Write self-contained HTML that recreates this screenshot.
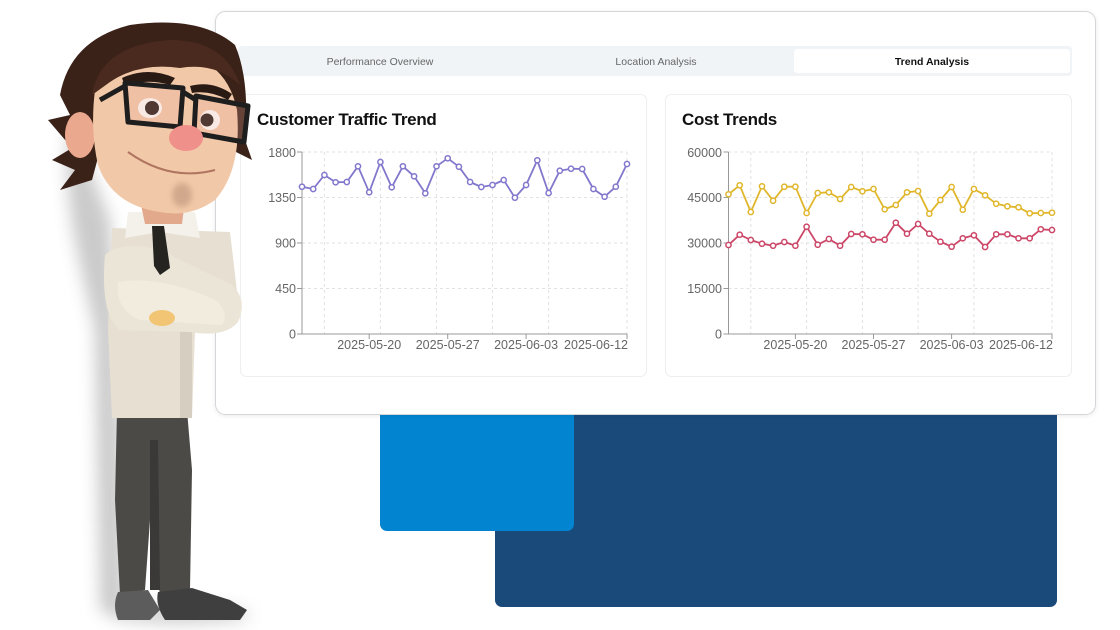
<!DOCTYPE html>
<html><head><meta charset="utf-8"><style>
html,body{margin:0;padding:0;background:#fff;width:1120px;height:630px;overflow:hidden}
svg{display:block}
text{font-family:"Liberation Sans",sans-serif}
</style></head><body>
<svg width="1120" height="630" viewBox="0 0 1120 630" xmlns="http://www.w3.org/2000/svg">
<defs>
<filter id="blur8" x="-50%" y="-50%" width="200%" height="200%"><feGaussianBlur stdDeviation="8"/></filter>
<filter id="blur3" x="-50%" y="-50%" width="200%" height="200%"><feGaussianBlur stdDeviation="3"/></filter>
<filter id="cardsh" x="-5%" y="-5%" width="110%" height="115%"><feDropShadow dx="0" dy="1" stdDeviation="2" flood-color="#000" flood-opacity="0.08"/></filter>
</defs>
<rect width="1120" height="630" fill="#fff"/>

<!-- blue blocks -->
<rect x="495" y="380" width="562" height="227" rx="7" fill="#1a4a7a"/>
<rect x="380" y="380" width="194" height="151" rx="7" fill="#0384d0"/>

<!-- main card -->
<rect x="215.5" y="11.5" width="880" height="403" rx="10" fill="#fff" stroke="#d4d6d9" filter="url(#cardsh)"/>

<!-- tabs -->
<rect x="238" y="46" width="834" height="30" rx="4" fill="#f1f4f7"/>
<rect x="794" y="49" width="276" height="24" rx="3" fill="#fff"/>
<text x="380" y="65" font-size="10.5" fill="#666" text-anchor="middle">Performance Overview</text>
<text x="656" y="65" font-size="10.5" fill="#666" text-anchor="middle">Location Analysis</text>
<text x="932" y="65" font-size="10.5" fill="#111" text-anchor="middle" font-weight="bold">Trend Analysis</text>

<!-- chart cards -->
<rect x="240.5" y="94.5" width="406" height="282" rx="6" fill="#fff" stroke="#eceef0"/>
<rect x="665.5" y="94.5" width="406" height="282" rx="6" fill="#fff" stroke="#eceef0"/>

<text x="257" y="125" font-size="17" font-weight="bold" fill="#111" letter-spacing="-0.3">Customer Traffic Trend</text>
<text x="682" y="125" font-size="17" font-weight="bold" fill="#111" letter-spacing="-0.3">Cost Trends</text>

<!-- Chart 1 grid -->
<g stroke="#e2e2e2" stroke-dasharray="3 3" stroke-width="1" fill="none">
<line x1="302" y1="152" x2="627" y2="152"/>
<line x1="302" y1="197.5" x2="627" y2="197.5"/>
<line x1="302" y1="243" x2="627" y2="243"/>
<line x1="302" y1="288.5" x2="627" y2="288.5"/>
<line x1="324.4" y1="152" x2="324.4" y2="334"/>
<line x1="380.4" y1="152" x2="380.4" y2="334"/>
<line x1="436.5" y1="152" x2="436.5" y2="334"/>
<line x1="492.5" y1="152" x2="492.5" y2="334"/>
<line x1="548.6" y1="152" x2="548.6" y2="334"/>
<line x1="627" y1="152" x2="627" y2="334"/>
</g>
<g stroke="#999" stroke-width="1" fill="none">
<line x1="302" y1="152" x2="302" y2="334"/>
<line x1="302" y1="334" x2="627" y2="334"/>
<line x1="297" y1="152" x2="302" y2="152"/>
<line x1="297" y1="197.5" x2="302" y2="197.5"/>
<line x1="297" y1="243" x2="302" y2="243"/>
<line x1="297" y1="288.5" x2="302" y2="288.5"/>
<line x1="297" y1="334" x2="302" y2="334"/>
<line x1="369.2" y1="334" x2="369.2" y2="339"/>
<line x1="447.7" y1="334" x2="447.7" y2="339"/>
<line x1="526.1" y1="334" x2="526.1" y2="339"/>
<line x1="627" y1="334" x2="627" y2="339"/>
</g>
<g font-size="12.5" fill="#666" text-anchor="end">
<text x="296" y="157">1800</text>
<text x="296" y="202">1350</text>
<text x="296" y="247.5">900</text>
<text x="296" y="293">450</text>
<text x="296" y="338.5">0</text>
</g>
<g font-size="12.5" fill="#666" text-anchor="middle">
<text x="369.2" y="349">2025-05-20</text>
<text x="447.7" y="349">2025-05-27</text>
<text x="526.1" y="349">2025-06-03</text>
<text x="628" y="349" text-anchor="end">2025-06-12</text>
</g>
<g fill="none" stroke="#8177cc" stroke-width="1.8" stroke-linejoin="round">
<polyline points="302,186.7 313.2,189 324.4,175 335.6,182.3 346.8,182 358,166.3 369.2,192.3 380.4,162 391.7,187.3 402.9,166.3 414.1,176.3 425.3,193.3 436.5,166.3 447.7,158.3 458.9,166.7 470.1,182 481.3,187 492.5,185 503.7,180 514.9,197.7 526.1,185 537.3,160.3 548.6,193 559.8,170.7 571,168.7 582.2,169 593.4,189 604.6,196.7 615.8,186.7 627,164"/>
</g>
<g fill="#fff" stroke="#8177cc" stroke-width="1.5">
<circle cx="302" cy="186.7" r="2.6"/><circle cx="313.2" cy="189" r="2.6"/><circle cx="324.4" cy="175" r="2.6"/><circle cx="335.6" cy="182.3" r="2.6"/><circle cx="346.8" cy="182" r="2.6"/><circle cx="358" cy="166.3" r="2.6"/><circle cx="369.2" cy="192.3" r="2.6"/><circle cx="380.4" cy="162" r="2.6"/><circle cx="391.7" cy="187.3" r="2.6"/><circle cx="402.9" cy="166.3" r="2.6"/><circle cx="414.1" cy="176.3" r="2.6"/><circle cx="425.3" cy="193.3" r="2.6"/><circle cx="436.5" cy="166.3" r="2.6"/><circle cx="447.7" cy="158.3" r="2.6"/><circle cx="458.9" cy="166.7" r="2.6"/><circle cx="470.1" cy="182" r="2.6"/><circle cx="481.3" cy="187" r="2.6"/><circle cx="492.5" cy="185" r="2.6"/><circle cx="503.7" cy="180" r="2.6"/><circle cx="514.9" cy="197.7" r="2.6"/><circle cx="526.1" cy="185" r="2.6"/><circle cx="537.3" cy="160.3" r="2.6"/><circle cx="548.6" cy="193" r="2.6"/><circle cx="559.8" cy="170.7" r="2.6"/><circle cx="571" cy="168.7" r="2.6"/><circle cx="582.2" cy="169" r="2.6"/><circle cx="593.4" cy="189" r="2.6"/><circle cx="604.6" cy="196.7" r="2.6"/><circle cx="615.8" cy="186.7" r="2.6"/><circle cx="627" cy="164" r="2.6"/>
</g>

<!-- Chart 2 grid -->
<g stroke="#e2e2e2" stroke-dasharray="3 3" stroke-width="1" fill="none">
<line x1="728.5" y1="152" x2="1052" y2="152"/>
<line x1="728.5" y1="197.5" x2="1052" y2="197.5"/>
<line x1="728.5" y1="243" x2="1052" y2="243"/>
<line x1="728.5" y1="288.5" x2="1052" y2="288.5"/>
<line x1="750.8" y1="152" x2="750.8" y2="334"/>
<line x1="806.6" y1="152" x2="806.6" y2="334"/>
<line x1="862.4" y1="152" x2="862.4" y2="334"/>
<line x1="918.1" y1="152" x2="918.1" y2="334"/>
<line x1="973.9" y1="152" x2="973.9" y2="334"/>
<line x1="1052" y1="152" x2="1052" y2="334"/>
</g>
<g stroke="#999" stroke-width="1" fill="none">
<line x1="728.5" y1="152" x2="728.5" y2="334"/>
<line x1="728.5" y1="334" x2="1052" y2="334"/>
<line x1="723.5" y1="152" x2="728.5" y2="152"/>
<line x1="723.5" y1="197.5" x2="728.5" y2="197.5"/>
<line x1="723.5" y1="243" x2="728.5" y2="243"/>
<line x1="723.5" y1="288.5" x2="728.5" y2="288.5"/>
<line x1="723.5" y1="334" x2="728.5" y2="334"/>
<line x1="795.4" y1="334" x2="795.4" y2="339"/>
<line x1="873.5" y1="334" x2="873.5" y2="339"/>
<line x1="951.6" y1="334" x2="951.6" y2="339"/>
<line x1="1052" y1="334" x2="1052" y2="339"/>
</g>
<g font-size="12.5" fill="#666" text-anchor="end">
<text x="722" y="157">60000</text>
<text x="722" y="202">45000</text>
<text x="722" y="247.5">30000</text>
<text x="722" y="293">15000</text>
<text x="722" y="338.5">0</text>
</g>
<g font-size="12.5" fill="#666" text-anchor="middle">
<text x="795.4" y="349">2025-05-20</text>
<text x="873.5" y="349">2025-05-27</text>
<text x="951.6" y="349">2025-06-03</text>
<text x="1053" y="349" text-anchor="end">2025-06-12</text>
</g>
<g fill="none" stroke-width="1.8" stroke-linejoin="round">
<polyline stroke="#e0b62a" points="728.5,194.3 739.7,185.3 750.8,212 762,186.3 773.1,200.7 784.3,186.7 795.4,186.7 806.6,213 817.7,193 828.9,192.3 840.1,199 851.2,187 862.4,191.3 873.5,189 884.7,209.3 895.8,205 907,192.3 918.1,191 929.3,213.7 940.4,200 951.6,187 962.8,209.7 973.9,189 985.1,195.3 996.2,203.7 1007.4,206.3 1018.5,207.3 1029.7,213.3 1040.8,213 1052,212.7"/>
<polyline stroke="#cc4668" points="728.5,245 739.7,234.7 750.8,240 762,243.7 773.1,245.7 784.3,242 795.4,245.7 806.6,226.7 817.7,244.7 828.9,239 840.1,245.7 851.2,234 862.4,234.3 873.5,239.7 884.7,239.7 895.8,222.7 907,233.7 918.1,224 929.3,233.7 940.4,241.7 951.6,246.7 962.8,238.3 973.9,235.3 985.1,247 996.2,234.3 1007.4,234.3 1018.5,238.3 1029.7,238.3 1040.8,229.3 1052,230"/>
</g>
<g fill="#fff" stroke="#e0b62a" stroke-width="1.5">
<circle cx="728.5" cy="194.3" r="2.6"/><circle cx="739.7" cy="185.3" r="2.6"/><circle cx="750.8" cy="212" r="2.6"/><circle cx="762" cy="186.3" r="2.6"/><circle cx="773.1" cy="200.7" r="2.6"/><circle cx="784.3" cy="186.7" r="2.6"/><circle cx="795.4" cy="186.7" r="2.6"/><circle cx="806.6" cy="213" r="2.6"/><circle cx="817.7" cy="193" r="2.6"/><circle cx="828.9" cy="192.3" r="2.6"/><circle cx="840.1" cy="199" r="2.6"/><circle cx="851.2" cy="187" r="2.6"/><circle cx="862.4" cy="191.3" r="2.6"/><circle cx="873.5" cy="189" r="2.6"/><circle cx="884.7" cy="209.3" r="2.6"/><circle cx="895.8" cy="205" r="2.6"/><circle cx="907" cy="192.3" r="2.6"/><circle cx="918.1" cy="191" r="2.6"/><circle cx="929.3" cy="213.7" r="2.6"/><circle cx="940.4" cy="200" r="2.6"/><circle cx="951.6" cy="187" r="2.6"/><circle cx="962.8" cy="209.7" r="2.6"/><circle cx="973.9" cy="189" r="2.6"/><circle cx="985.1" cy="195.3" r="2.6"/><circle cx="996.2" cy="203.7" r="2.6"/><circle cx="1007.4" cy="206.3" r="2.6"/><circle cx="1018.5" cy="207.3" r="2.6"/><circle cx="1029.7" cy="213.3" r="2.6"/><circle cx="1040.8" cy="213" r="2.6"/><circle cx="1052" cy="212.7" r="2.6"/>
</g>
<g fill="#fff" stroke="#cc4668" stroke-width="1.5">
<circle cx="728.5" cy="245" r="2.6"/><circle cx="739.7" cy="234.7" r="2.6"/><circle cx="750.8" cy="240" r="2.6"/><circle cx="762" cy="243.7" r="2.6"/><circle cx="773.1" cy="245.7" r="2.6"/><circle cx="784.3" cy="242" r="2.6"/><circle cx="795.4" cy="245.7" r="2.6"/><circle cx="806.6" cy="226.7" r="2.6"/><circle cx="817.7" cy="244.7" r="2.6"/><circle cx="828.9" cy="239" r="2.6"/><circle cx="840.1" cy="245.7" r="2.6"/><circle cx="851.2" cy="234" r="2.6"/><circle cx="862.4" cy="234.3" r="2.6"/><circle cx="873.5" cy="239.7" r="2.6"/><circle cx="884.7" cy="239.7" r="2.6"/><circle cx="895.8" cy="222.7" r="2.6"/><circle cx="907" cy="233.7" r="2.6"/><circle cx="918.1" cy="224" r="2.6"/><circle cx="929.3" cy="233.7" r="2.6"/><circle cx="940.4" cy="241.7" r="2.6"/><circle cx="951.6" cy="246.7" r="2.6"/><circle cx="962.8" cy="238.3" r="2.6"/><circle cx="973.9" cy="235.3" r="2.6"/><circle cx="985.1" cy="247" r="2.6"/><circle cx="996.2" cy="234.3" r="2.6"/><circle cx="1007.4" cy="234.3" r="2.6"/><circle cx="1018.5" cy="238.3" r="2.6"/><circle cx="1029.7" cy="238.3" r="2.6"/><circle cx="1040.8" cy="229.3" r="2.6"/><circle cx="1052" cy="230" r="2.6"/>
</g>

<!-- ===== Character ===== -->
<!-- shadow -->
<g filter="url(#blur8)" fill="#8a8a8a" opacity="0.45">
<path d="M70,120 C60,200 80,260 95,330 L100,610 L125,620 L118,330 L110,220 Z"/>
<ellipse cx="180" cy="615" rx="70" ry="8"/>
</g>
<!-- legs -->
<path d="M117,410 L187,410 L192,470 L190,590 L160,595 L150,520 L145,590 L120,595 L115,500 Z" fill="#4b4a47"/>
<path d="M150,440 L158,440 L160,590 L150,590 Z" fill="#3a3937"/>
<!-- shoes -->
<path d="M118,592 L148,590 L160,610 L150,620 L118,620 Q112,605 118,592 Z" fill="#5c5c5c"/>
<path d="M158,592 L192,588 L230,600 L247,610 L240,620 L165,620 Q155,605 158,592 Z" fill="#3f3f3f"/>
<!-- coat -->
<path d="M112,228 L230,232 L238,300 L195,330 L192,418 L112,418 L108,330 Z" fill="#e6dfd2"/>
<path d="M180,330 L192,330 L192,418 L180,418 Z" fill="#d6cfc1"/>
<!-- arms crossed -->
<path d="M105,255 Q120,240 160,250 L232,285 Q248,300 238,322 Q225,338 190,332 L120,330 Q100,315 105,255 Z" fill="#ebe5d8"/>
<path d="M118,282 Q160,275 215,300 Q230,312 222,325 L140,320 Q115,310 118,282 Z" fill="#f2ecdf"/>
<ellipse cx="162" cy="318" rx="13" ry="8" fill="#f2c574"/>
<!-- collar / tie -->
<path d="M128,212 L195,212 L200,238 L160,232 L125,238 Z" fill="#f4f1ea"/>
<path d="M152,226 L164,226 L170,268 L160,275 L154,266 Z" fill="#262421"/>
<!-- neck -->
<path d="M140,200 L185,200 L182,224 L145,224 Z" fill="#e3a98c"/>
<!-- hair back / strands -->
<path d="M60,95 Q70,40 130,25 Q200,15 235,45 Q250,80 245,140 L252,160 L232,150 L100,150 L92,180 L60,190 L75,170 L52,160 L72,148 L48,120 L70,115 Z" fill="#3b2219"/>
<!-- ear -->
<ellipse cx="80" cy="135" rx="15" ry="23" fill="#eaa98f"/>
<!-- head -->
<path d="M95,90 Q100,55 160,52 Q225,52 237,110 Q242,170 215,200 Q190,218 160,212 Q112,205 98,165 Q90,130 95,90 Z" fill="#f2c9a8"/>
<!-- front hair fringe -->
<path d="M92,95 Q100,45 170,40 Q225,40 240,85 Q215,62 180,68 Q140,62 110,82 Z" fill="#4a2a1e"/>
<!-- eyebrows -->
<path d="M122,78 Q148,66 175,78 L170,85 Q148,78 125,86 Z" fill="#2a1a14"/>
<path d="M190,86 Q212,80 232,94 L228,100 Q210,90 192,93 Z" fill="#2a1a14"/>
<!-- eyes -->
<ellipse cx="150" cy="108" rx="12" ry="10" fill="#fff"/>
<circle cx="152" cy="108" r="7" fill="#1c1411"/>
<ellipse cx="210" cy="120" rx="10" ry="10" fill="#fff"/>
<circle cx="207" cy="120" r="6.5" fill="#1c1411"/>
<!-- glasses -->
<g fill="none" stroke="#1e1e1e" stroke-width="5" stroke-linejoin="round">
<path d="M125,83 L183,88 L180,127 L128,122 Z" fill="#e9a896" fill-opacity="0.25"/>
<path d="M196,96 L248,106 L244,142 L194,133 Z" fill="#e9a896" fill-opacity="0.25"/>
<line x1="183" y1="92" x2="196" y2="100"/>
<line x1="125" y1="86" x2="100" y2="100"/>
</g>
<!-- nose -->
<ellipse cx="186" cy="138" rx="17" ry="13" fill="#f0908a"/>
<!-- mouth -->
<path d="M128,152 Q170,182 215,170" fill="none" stroke="#b07560" stroke-width="2"/>
<!-- goatee -->
<ellipse cx="182" cy="195" rx="10" ry="12" fill="#b08870" opacity="0.5" filter="url(#blur3)"/>
</svg>
</body></html>
